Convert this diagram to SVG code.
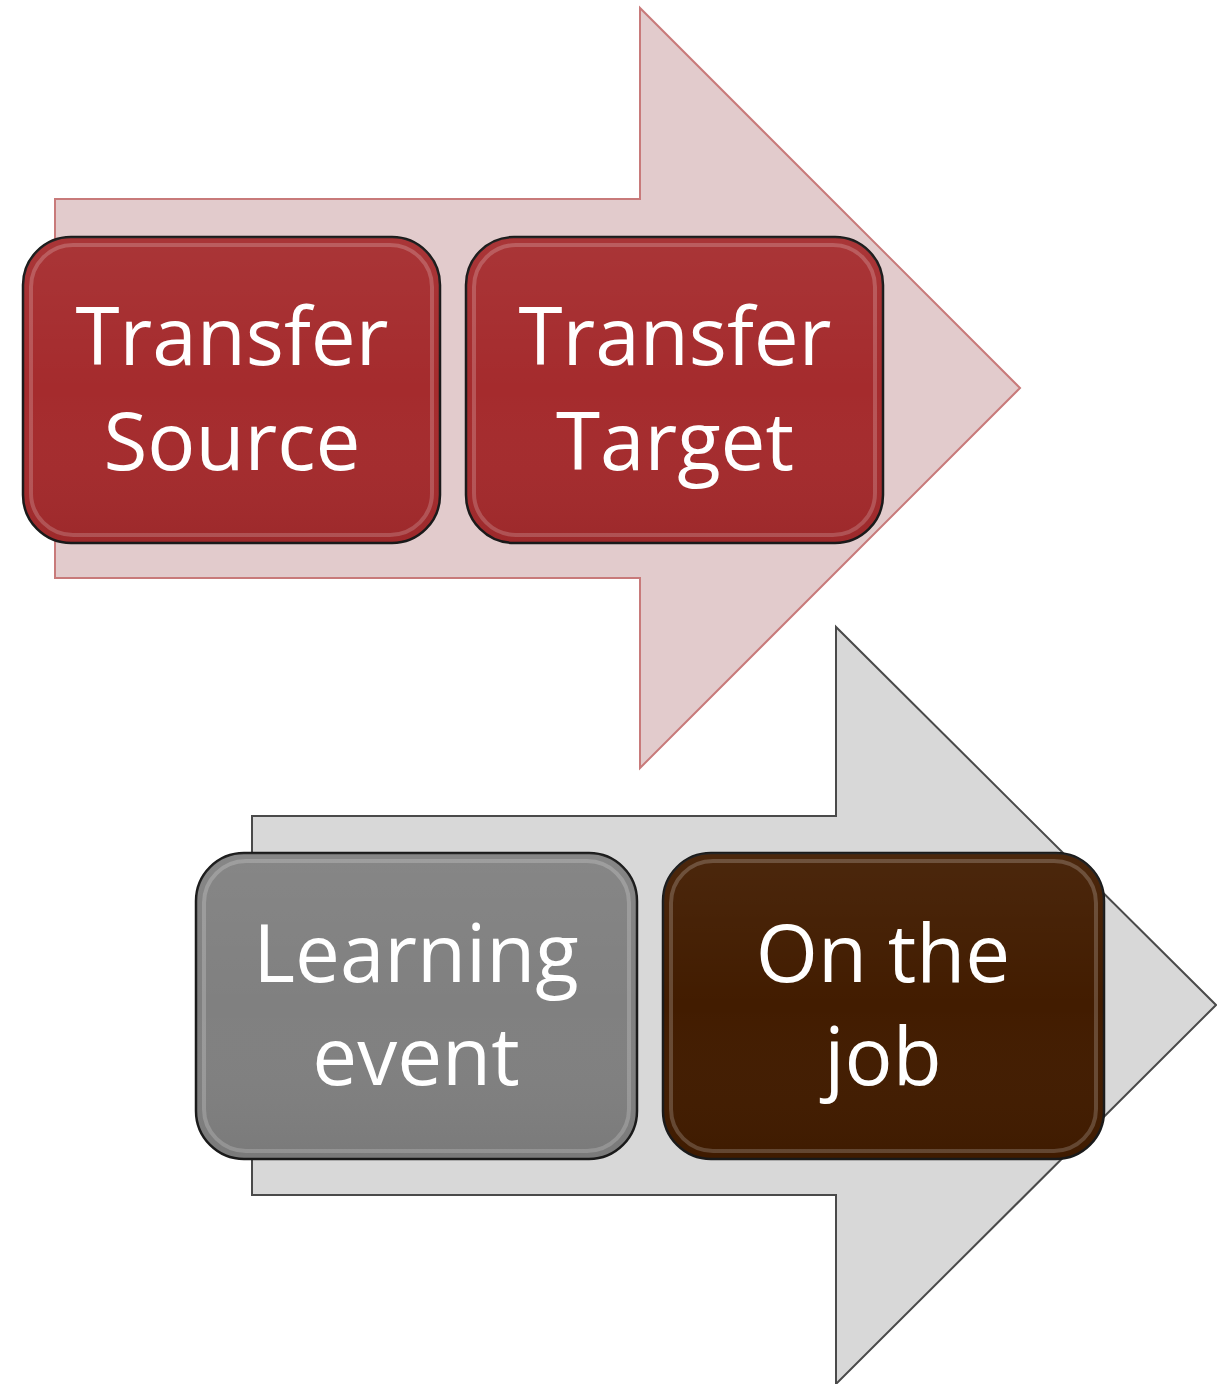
<svg xmlns="http://www.w3.org/2000/svg" width="1217" height="1384" viewBox="0 0 1217 1384">
<style>
.lbl{font-family:"Open Sans","Noto Sans",sans-serif;font-size:80px;fill:#ffffff;text-anchor:middle}
.box{stroke:#1a1a1a;stroke-width:2.5}
.gloss{fill:none;stroke:#ffffff;stroke-opacity:0.2;stroke-width:4}
</style>
<defs>
<linearGradient id="shade" x1="0" y1="0" x2="0" y2="1">
<stop offset="0" stop-color="#ffffff" stop-opacity="0.05"/>
<stop offset="0.5" stop-color="#ffffff" stop-opacity="0"/>
<stop offset="1" stop-color="#000000" stop-opacity="0.05"/>
</linearGradient>
</defs>
<rect width="1217" height="1384" fill="#ffffff"/>
<g id="arrows">
<polygon id="arrow-top" points="55,199 640,199 640,8 1020,388 640,768 640,578 55,578" fill="#e2cbcc" stroke="#c87a7a" stroke-width="2"/>
<polygon id="arrow-bottom" points="252,816 836,816 836,627 1216,1005 836,1384 836,1195 252,1195" fill="#d8d8d8" stroke="#4a4a4a" stroke-width="2"/>
</g>
<g id="node-transfer-source">
<rect class="box" x="23" y="237" width="417" height="306" rx="48" fill="#a52b2d"/>
<rect class="gloss" x="31" y="245" width="401" height="290" rx="42"/>
<rect x="23" y="237" width="417" height="306" rx="48" fill="url(#shade)"/>
<text class="lbl" x="232" y="365">Transfer</text>
<text class="lbl" x="232" y="470">Source</text>
</g>
<g id="node-transfer-target">
<rect class="box" x="466" y="237" width="417" height="306" rx="48" fill="#a52b2d"/>
<rect class="gloss" x="474" y="245" width="401" height="290" rx="42"/>
<rect x="466" y="237" width="417" height="306" rx="48" fill="url(#shade)"/>
<text class="lbl" x="675" y="365">Transfer</text>
<text class="lbl" x="675" y="470">Target</text>
</g>
<g id="node-learning-event">
<rect class="box" x="196" y="853" width="441" height="306" rx="48" fill="#808080"/>
<rect class="gloss" x="204" y="861" width="425" height="290" rx="42"/>
<rect x="196" y="853" width="441" height="306" rx="48" fill="url(#shade)"/>
<text class="lbl" x="416" y="982">Learning</text>
<text class="lbl" x="416" y="1085">event</text>
</g>
<g id="node-on-the-job">
<rect class="box" x="663" y="853" width="441" height="306" rx="48" fill="#421c00"/>
<rect class="gloss" x="671" y="861" width="425" height="290" rx="42"/>
<rect x="663" y="853" width="441" height="306" rx="48" fill="url(#shade)"/>
<text class="lbl" x="883" y="982">On the</text>
<text class="lbl" x="883" y="1085">job</text>
</g>
</svg>
